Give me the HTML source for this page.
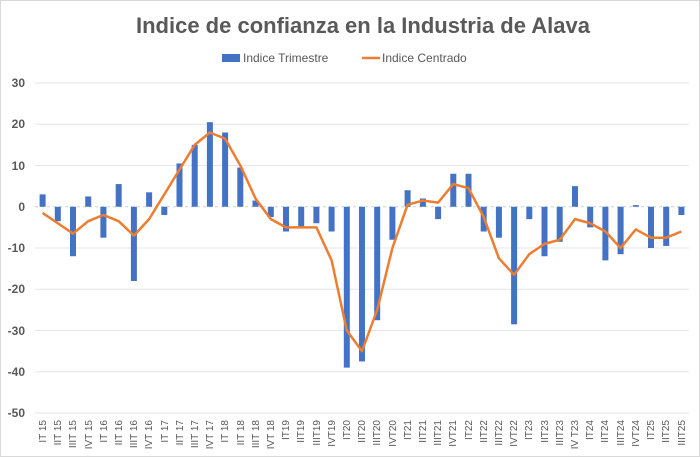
<!DOCTYPE html>
<html><head><meta charset="utf-8"><style>
body{margin:0;background:#fff}
svg{display:block;font-family:"Liberation Sans",sans-serif}
</style></head><body>
<svg width="700" height="457" viewBox="0 0 700 457">
<rect x="0.5" y="0.5" width="699" height="456" fill="#fff" stroke="#d9d9d9"/>
<text x="363" y="33" text-anchor="middle" font-size="22" font-weight="bold" fill="#595959">Indice de confianza en la Industria de Alava</text>
<rect x="222" y="54" width="18" height="8" fill="#4472c4"/>
<text x="243" y="62" font-size="12" fill="#595959">Indice Trimestre</text>
<line x1="362" y1="58" x2="380" y2="58" stroke="#ed7d31" stroke-width="2.5"/>
<text x="382" y="62" font-size="12" fill="#595959">Indice Centrado</text>
<g stroke="#e6e6e6" stroke-width="1">
<line x1="35" y1="83" x2="689" y2="83"/><line x1="35" y1="124.25" x2="689" y2="124.25"/><line x1="35" y1="165.5" x2="689" y2="165.5"/><line x1="35" y1="248" x2="689" y2="248"/><line x1="35" y1="289.25" x2="689" y2="289.25"/><line x1="35" y1="330.5" x2="689" y2="330.5"/><line x1="35" y1="371.75" x2="689" y2="371.75"/><line x1="35" y1="413" x2="689" y2="413"/>
</g>
<line x1="35" y1="206.75" x2="689" y2="206.75" stroke="#d0d0d0" stroke-dasharray="3,3"/>
<g font-size="12" font-weight="bold" fill="#595959" text-anchor="end">
<text x="25" y="87">30</text><text x="25" y="128">20</text><text x="25" y="170">10</text><text x="25" y="211">0</text><text x="25" y="252">-10</text><text x="25" y="293">-20</text><text x="25" y="335">-30</text><text x="25" y="376">-40</text><text x="25" y="417">-50</text>
</g>
<g transform="translate(0,206.75) scale(1,-4.125)" fill="#4472c4">
<rect x="39.6" y="0" width="6" height="3"/>
<rect x="54.8" y="-3.5" width="6" height="3.5"/>
<rect x="70" y="-12" width="6" height="12"/>
<rect x="85.2" y="0" width="6" height="2.5"/>
<rect x="100.4" y="-7.5" width="6" height="7.5"/>
<rect x="115.7" y="0" width="6" height="5.5"/>
<rect x="130.9" y="-18" width="6" height="18"/>
<rect x="146.1" y="0" width="6" height="3.5"/>
<rect x="161.3" y="-2" width="6" height="2"/>
<rect x="176.5" y="0" width="6" height="10.5"/>
<rect x="191.7" y="0" width="6" height="15"/>
<rect x="206.9" y="0" width="6" height="20.5"/>
<rect x="222.1" y="0" width="6" height="18"/>
<rect x="237.3" y="0" width="6" height="9.5"/>
<rect x="252.5" y="0" width="6" height="1.5"/>
<rect x="267.8" y="-2.5" width="6" height="2.5"/>
<rect x="283" y="-6" width="6" height="6"/>
<rect x="298.2" y="-5" width="6" height="5"/>
<rect x="313.4" y="-4" width="6" height="4"/>
<rect x="328.6" y="-6" width="6" height="6"/>
<rect x="343.8" y="-39" width="6" height="39"/>
<rect x="359" y="-37.5" width="6" height="37.5"/>
<rect x="374.2" y="-27.5" width="6" height="27.5"/>
<rect x="389.4" y="-8" width="6" height="8"/>
<rect x="404.6" y="0" width="6" height="4"/>
<rect x="419.9" y="0" width="6" height="2"/>
<rect x="435.1" y="-3" width="6" height="3"/>
<rect x="450.3" y="0" width="6" height="8"/>
<rect x="465.5" y="0" width="6" height="8"/>
<rect x="480.7" y="-6" width="6" height="6"/>
<rect x="495.9" y="-7.5" width="6" height="7.5"/>
<rect x="511.1" y="-28.5" width="6" height="28.5"/>
<rect x="526.3" y="-3" width="6" height="3"/>
<rect x="541.5" y="-12" width="6" height="12"/>
<rect x="556.7" y="-8.5" width="6" height="8.5"/>
<rect x="572" y="0" width="6" height="5"/>
<rect x="587.2" y="-5" width="6" height="5"/>
<rect x="602.4" y="-13" width="6" height="13"/>
<rect x="617.6" y="-11.5" width="6" height="11.5"/>
<rect x="632.8" y="0" width="6" height="0.4"/>
<rect x="648" y="-10" width="6" height="10"/>
<rect x="663.2" y="-9.5" width="6" height="9.5"/>
<rect x="678.4" y="-2" width="6" height="2"/>
<polyline fill="none" stroke="#ed7d31" stroke-width="2.5" stroke-linejoin="round" vector-effect="non-scaling-stroke" points="42.6,-1.5 57.8,-4 73,-6.5 88.2,-3.5 103.4,-2 118.7,-3.5 133.9,-7 149.1,-3 164.3,3 179.5,9 194.7,15 209.9,18 225.1,16.5 240.3,10 255.5,2 270.8,-3 286,-5 301.2,-5 316.4,-5 331.6,-13 346.8,-30 362,-35 377.2,-25 392.4,-10 407.6,0.5 422.9,1.5 438.1,1 453.3,5.5 468.5,4.5 483.7,-2.5 498.9,-12.5 514.1,-16.5 529.3,-11.5 544.5,-9 559.7,-8 575,-3 590.2,-4 605.4,-6 620.6,-10 635.8,-5.5 651,-7.5 666.2,-7.5 681.4,-6"/>
</g>
<g font-size="10" fill="#595959" text-anchor="end">
<text transform="translate(46,420) rotate(-90)">IT 15</text>
<text transform="translate(61,420) rotate(-90)">IIT 15</text>
<text transform="translate(76,420) rotate(-90)">IIIT 15</text>
<text transform="translate(92,420) rotate(-90)">IVT 15</text>
<text transform="translate(107,420) rotate(-90)">IT 16</text>
<text transform="translate(122,420) rotate(-90)">IIT 16</text>
<text transform="translate(137,420) rotate(-90)">IIIT 16</text>
<text transform="translate(152,420) rotate(-90)">IVT 16</text>
<text transform="translate(168,420) rotate(-90)">IT 17</text>
<text transform="translate(183,420) rotate(-90)">IIT 17</text>
<text transform="translate(198,420) rotate(-90)">IIIT 17</text>
<text transform="translate(213,420) rotate(-90)">IVT 17</text>
<text transform="translate(228,420) rotate(-90)">IT 18</text>
<text transform="translate(244,420) rotate(-90)">IIT 18</text>
<text transform="translate(259,420) rotate(-90)">IIIT 18</text>
<text transform="translate(274,420) rotate(-90)">IVT 18</text>
<text transform="translate(289,420) rotate(-90)">IT19</text>
<text transform="translate(304,420) rotate(-90)">IIT19</text>
<text transform="translate(320,420) rotate(-90)">IIIT19</text>
<text transform="translate(335,420) rotate(-90)">IVT19</text>
<text transform="translate(350,420) rotate(-90)">IT20</text>
<text transform="translate(365,420) rotate(-90)">IIT20</text>
<text transform="translate(380,420) rotate(-90)">IIIT20</text>
<text transform="translate(396,420) rotate(-90)">IVT20</text>
<text transform="translate(411,420) rotate(-90)">IT21</text>
<text transform="translate(426,420) rotate(-90)">IIT21</text>
<text transform="translate(441,420) rotate(-90)">IIIT21</text>
<text transform="translate(456,420) rotate(-90)">IVT21</text>
<text transform="translate(472,420) rotate(-90)">IT22</text>
<text transform="translate(487,420) rotate(-90)">IIT22</text>
<text transform="translate(502,420) rotate(-90)">IIIT22</text>
<text transform="translate(517,420) rotate(-90)">IVT22</text>
<text transform="translate(532,420) rotate(-90)">IT23</text>
<text transform="translate(548,420) rotate(-90)">IIT23</text>
<text transform="translate(563,420) rotate(-90)">IIIT23</text>
<text transform="translate(578,420) rotate(-90)">IV T23</text>
<text transform="translate(593,420) rotate(-90)">IT24</text>
<text transform="translate(608,420) rotate(-90)">IIT24</text>
<text transform="translate(624,420) rotate(-90)">IIIT24</text>
<text transform="translate(639,420) rotate(-90)">IVT24</text>
<text transform="translate(654,420) rotate(-90)">IT25</text>
<text transform="translate(669,420) rotate(-90)">IIT25</text>
<text transform="translate(685,420) rotate(-90)">IIIT25</text>
</g>
</svg>
</body></html>
